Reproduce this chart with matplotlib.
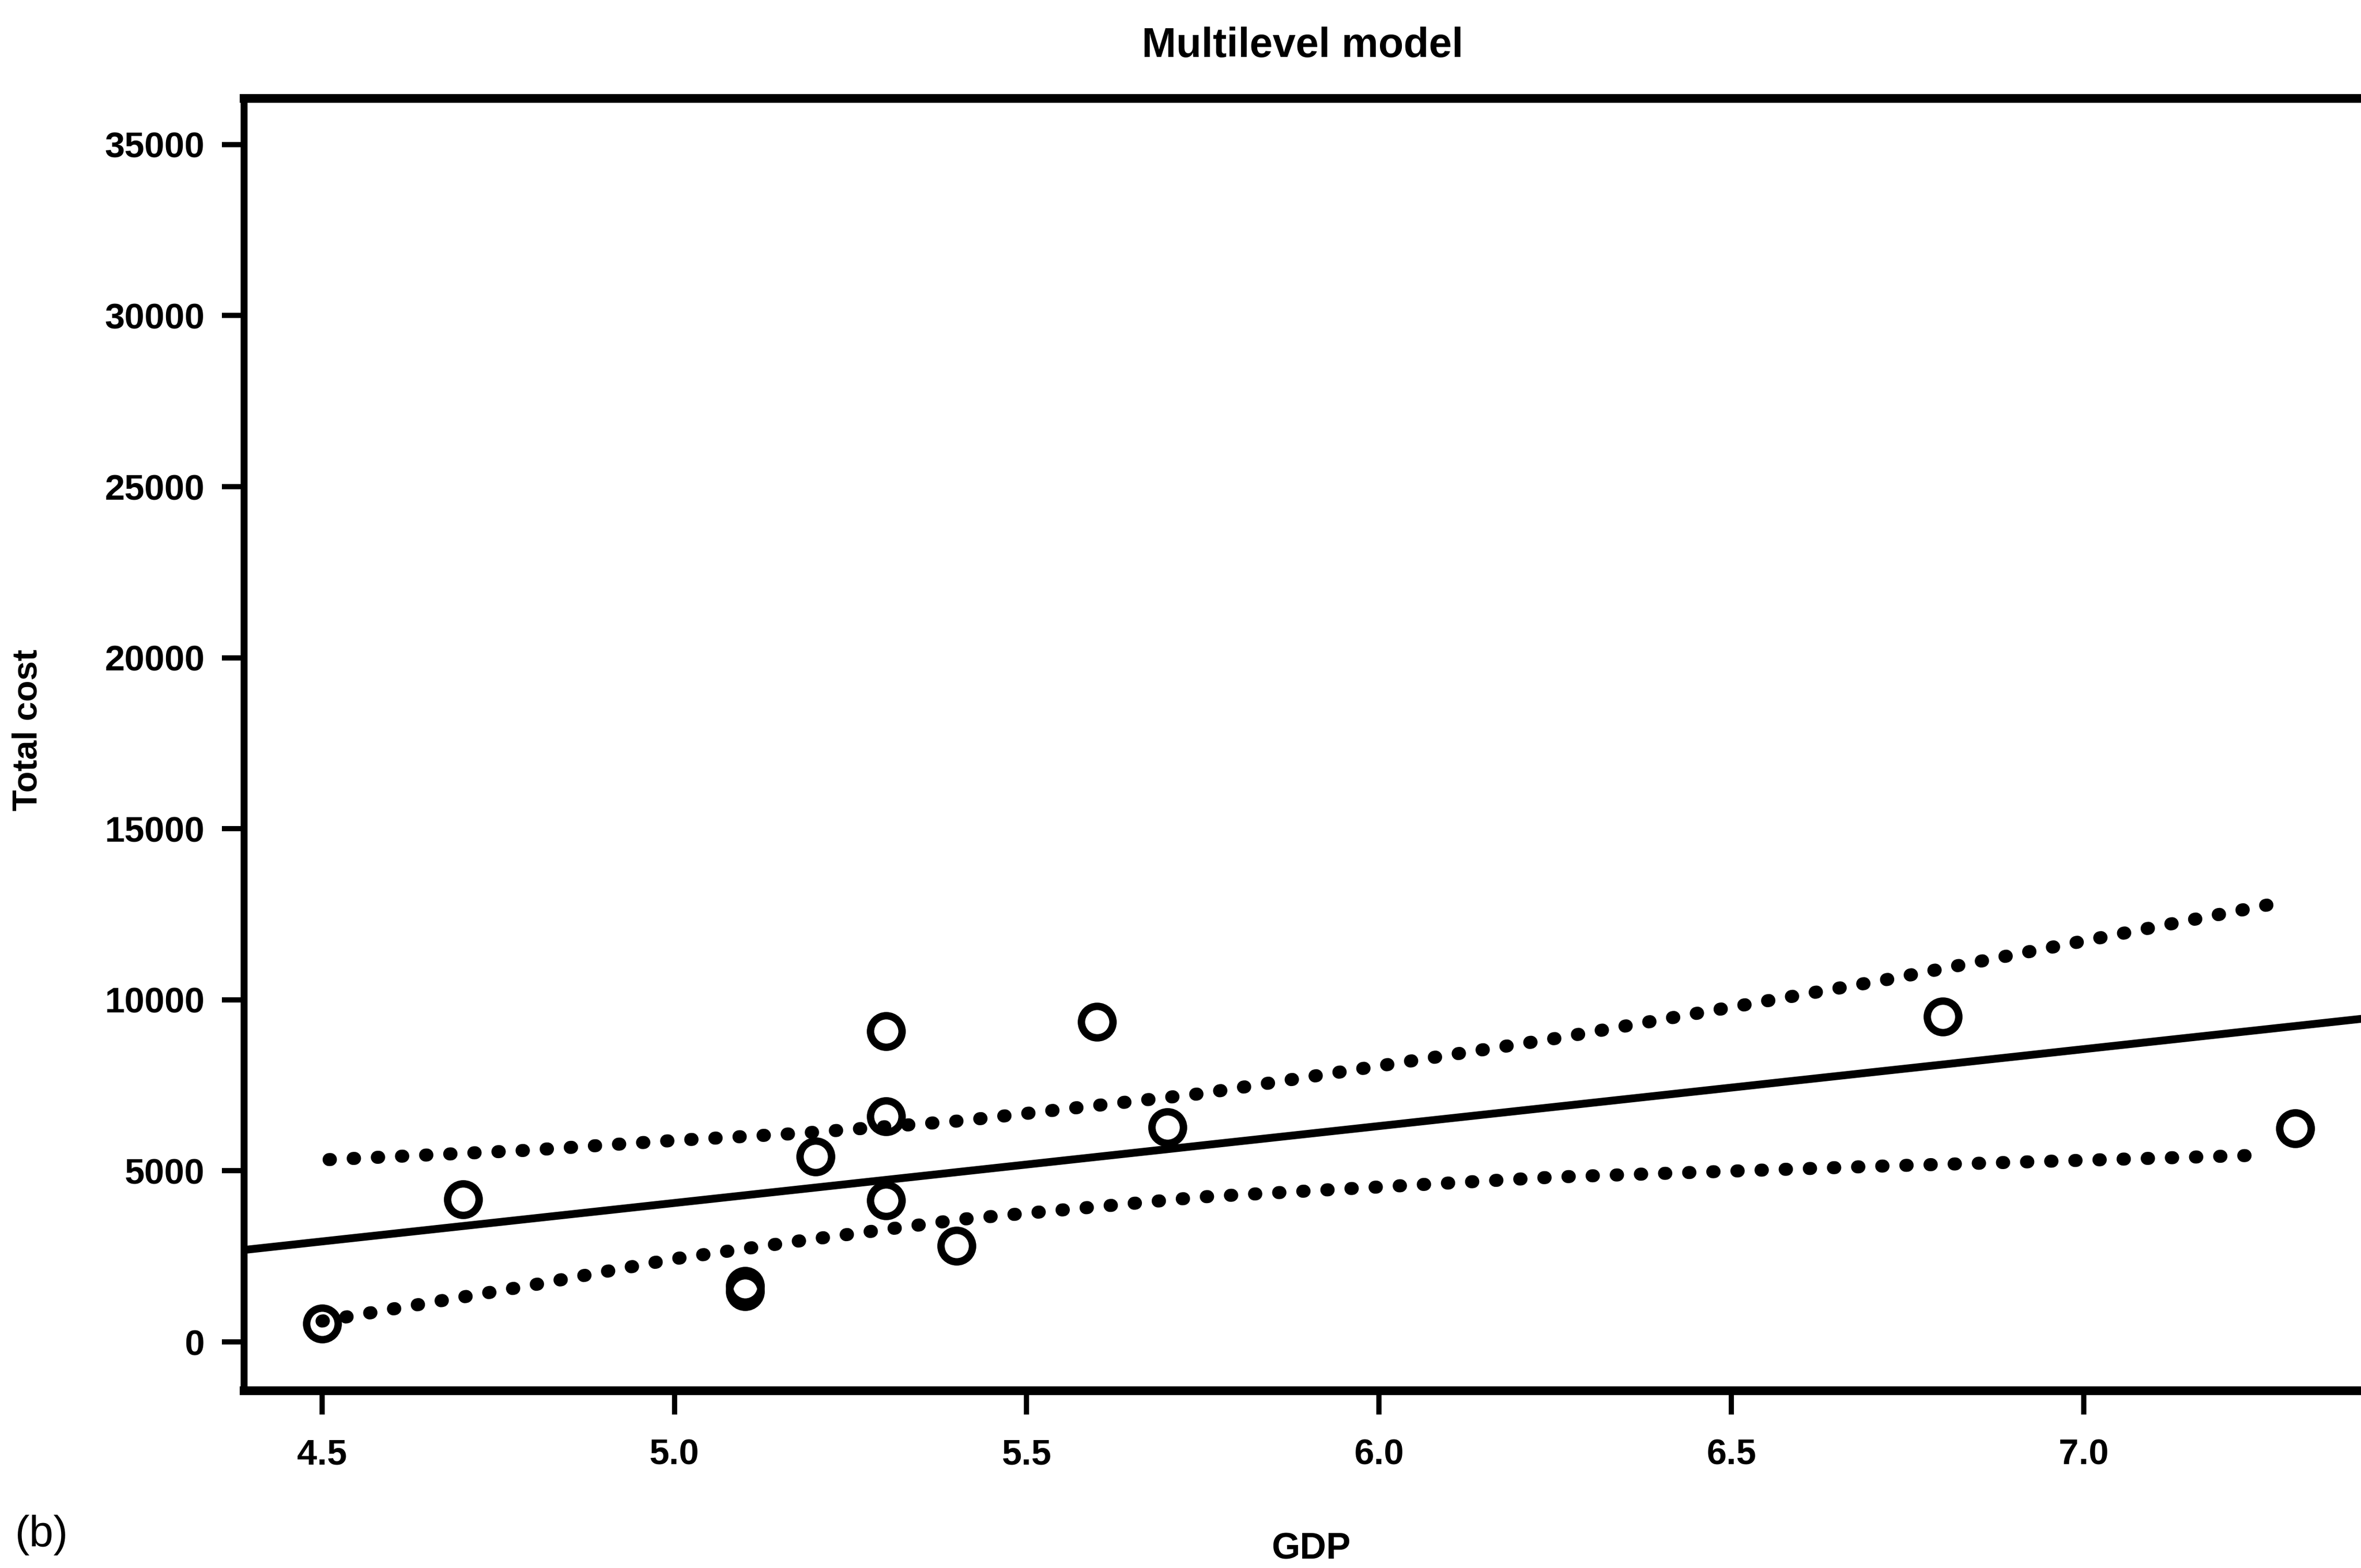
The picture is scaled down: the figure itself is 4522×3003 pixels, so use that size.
import numpy as np
import matplotlib
matplotlib.use("Agg")
import matplotlib.pyplot as plt

# observed points
gdp = [4.5, 4.7, 5.1, 5.1, 5.2, 5.3, 5.3, 5.3, 5.4, 5.6, 5.7, 6.8, 7.3]
cost = [530, 4160, 1640, 1480, 5420, 9080, 6600, 4140, 2810, 9350, 6270, 9510, 6240]

# fitted line (drawn across the whole axis)
fit_x = [4.39, 7.41]
fit_y = [2690, 9480]

# dotted bands
upper_x = [4.51, 4.79, 5.0, 5.18, 5.41, 5.75, 6.25, 6.72, 7.28]
upper_y = [5330, 5600, 5890, 6100, 6470, 7265, 8870, 10590, 12850]
lower_x = [4.5, 4.79, 5.0, 5.18, 5.41, 5.75, 6.25, 6.72, 7.26]
lower_y = [610, 1630, 2430, 2960, 3590, 4240, 4820, 5145, 5465]

yticks = [0, 5000, 10000, 15000, 20000, 25000, 30000, 35000]
xticks = [4.5, 5.0, 5.5, 6.0, 6.5, 7.0]

W, H = 4522, 3003
fam = 'Liberation Sans'

fig = plt.figure(figsize=(W/300, H/300), dpi=300)
ax = fig.add_axes([467/W, 1-2663/H, (4545-467)/W, (2663-188)/H])

ax.plot(fit_x, fit_y, color='black', lw=3.6, solid_capstyle='butt')
ax.plot(upper_x, upper_y, color='black', lw=6, linestyle=(0, (0.1, 1.75)),
        dash_capstyle='round')
ax.plot(lower_x, lower_y, color='black', lw=6, linestyle=(0, (0.1, 1.75)),
        dash_capstyle='round')
ax.plot(gdp, cost, 'o', ms=14.5, mfc='none', mec='black', mew=3.4)

ax.set_xlim(4.389, 7.4105)
ax.set_ylim(-1419, 36356)

ax.set_xticks(xticks)
ax.set_xticklabels(["%.1f" % v for v in xticks])
ax.set_yticks(yticks)
ax.set_yticklabels([str(v) for v in yticks])

for lab in ax.get_xticklabels() + ax.get_yticklabels():
    lab.set_family(fam)
    lab.set_fontweight('bold')
    lab.set_fontsize(16.5)

ax.tick_params(axis='y', length=10, width=2.4, pad=8, direction='out')
ax.tick_params(axis='x', length=11, width=2.4, pad=11, direction='out')

ax.spines['right'].set_visible(False)
ax.spines['left'].set_linewidth(3.2)
ax.spines['top'].set_linewidth(4)
ax.spines['bottom'].set_linewidth(4)

# labels placed where they sit in the reference
fig.text(2511/W, 1-2968/H, 'GDP', ha='center', va='center', family=fam,
         fontweight='bold', fontsize=16.8)
fig.text(54/W, 1-1398/H, 'Total cost', ha='center', va='center', rotation=90,
         family=fam, fontweight='bold', fontsize=16)
fig.text(2495/W, 1-89/H, 'Multilevel model', ha='center', va='center',
         family=fam, fontweight='bold', fontsize=19)
fig.text(29/W, 1-2940/H, '(b)', ha='left', va='center', fontsize=20, family=fam)

fig.savefig('out.png', dpi=300)
